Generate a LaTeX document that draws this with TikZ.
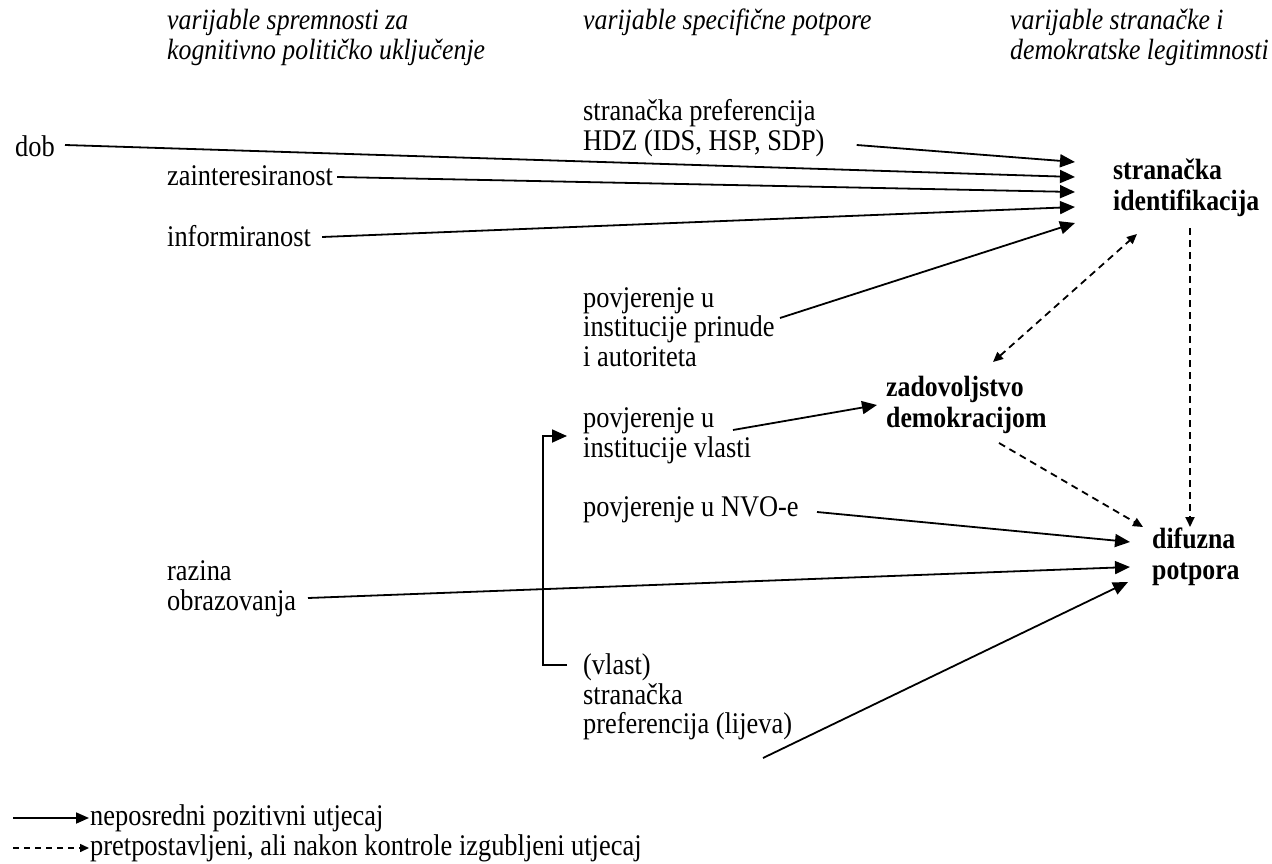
\documentclass[tikz,border=0pt]{standalone}
\usepackage{fontspec}
\setmainfont{Liberation Serif}[FakeStretch=0.88]
\usetikzlibrary{arrows.meta,calc}
\begin{document}
\begin{tikzpicture}[x=1pt,y=-1pt,
  lbl/.style={anchor=west,inner sep=0pt,align=left,font=\fontsize{30}{29.5}\selectfont},
  hdr/.style={lbl,font=\fontsize{29.3}{30}\selectfont\itshape},
  bld/.style={lbl,font=\fontsize{29.3}{30.5}\selectfont\bfseries},
  solidarr/.style={line width=1.8pt,-{Triangle[length=15pt,width=13pt]}},
  dasharr/.style={line width=1.8pt,dash pattern=on 7pt off 5pt,-{Triangle[length=10pt,width=9pt]}},
  dashbi/.style={line width=1.8pt,dash pattern=on 7pt off 5pt,{Triangle[length=10pt,width=9pt]}-{Triangle[length=10pt,width=9pt]}}]
\useasboundingbox (0,0) rectangle (1272,864);
\fill[white] (0,0) rectangle (1272,864);

% headers
\node[hdr] (h1) at (167,37) {varijable spremnosti za\\kognitivno političko uključenje};
\node[hdr] (h2) at (583,22) {varijable specifične potpore};
\node[hdr] (h3) at (1010,37) {varijable stranačke i\\demokratske legitimnosti};

% left column
\node[lbl] (dob) at (15,146) {dob};
\node[lbl] (zaint) at (167,176) {zainteresiranost};
\node[lbl] (inform) at (167,236) {informiranost};
\node[lbl] (razina) at (167,589) {razina\\obrazovanja};

% middle column
\node[lbl] (strpref) at (583,128) {stranačka preferencija\\HDZ (IDS, HSP, SDP)};
\node[lbl] (prinude) at (583,327) {povjerenje u\\institucije prinude\\i autoriteta};
\node[lbl] (vlasti) at (583,436) {povjerenje u\\institucije vlasti};
\node[lbl] (nvo) at (583,510) {povjerenje u NVO-e};
\node[lbl] (lijeva) at (583,697) {(vlast)\\stranačka\\preferencija (lijeva)};

% right targets
\node[bld] (sid) at (1113,188) {stranačka\\identifikacija};
\node[bld] (zad) at (886,405) {zadovoljstvo\\demokracijom};
\node[bld] (dif) at (1152,557) {difuzna\\potpora};

% arrows to stranacka identifikacija
\draw[solidarr] ($(strpref.east)+(32,17)$) -- ($(sid.west)+(-38,-26)$);
\draw[solidarr] ($(dob.east)+(10,-1)$) -- ($(sid.west)+(-38,-11)$);
\draw[solidarr] ($(zaint.east)+(4,1)$) -- ($(sid.west)+(-38,4)$);
\draw[solidarr] ($(inform.east)+(11,1)$) -- ($(sid.west)+(-38,19)$);
\draw[solidarr] ($(prinude.west)+(197,-9)$) -- ($(sid.west)+(-38,35)$);

% arrows to zadovoljstvo and difuzna potpora
\draw[solidarr] ($(vlasti.west)+(150,-6)$) -- ($(zad.west)+(-9,0)$);
\draw[solidarr] ($(nvo.west)+(234,2)$) -- ($(dif.west)+(-22,-15)$);
\draw[solidarr] ($(razina.west)+(141,9)$) -- ($(dif.west)+(-22,10)$);
\draw[solidarr] ($(lijeva.west)+(180,61)$) -- ($(dif.west)+(-24,25)$);

% bracket from (vlast) to institucije vlasti
\draw[solidarr] ($(lijeva.west)+(-16,-32)$) -| ($(vlasti.west)+(-40,0)$) -- ($(vlasti.west)+(-16,0)$);

% dashed
\draw[dashbi] ($(zad.west)+(107,-43)$) -- ($(sid.west)+(24,46)$);
\draw[dasharr] ($(zad.west)+(113,38)$) -- ($(dif.west)+(-9,-30)$);
\draw[dasharr] ($(sid.west)+(77,40)$) -- ($(dif.west)+(38,-30)$);

% legend
\node[lbl] (leg1) at (90,818) {neposredni pozitivni utjecaj};
\node[lbl] (leg2) at (90,848) {pretpostavljeni, ali nakon kontrole izgubljeni utjecaj};
\draw[line width=1.8pt,-{Triangle[length=13pt,width=11pt]}] ($(leg1.west)+(-77,0)$) -- ($(leg1.west)+(-1,0)$);
\draw[line width=1.5pt,dash pattern=on 6pt off 5pt,-{Triangle[length=9pt,width=8pt]}] ($(leg2.west)+(-77,0)$) -- ($(leg2.west)+(-1,0)$);
\end{tikzpicture}
\end{document}
